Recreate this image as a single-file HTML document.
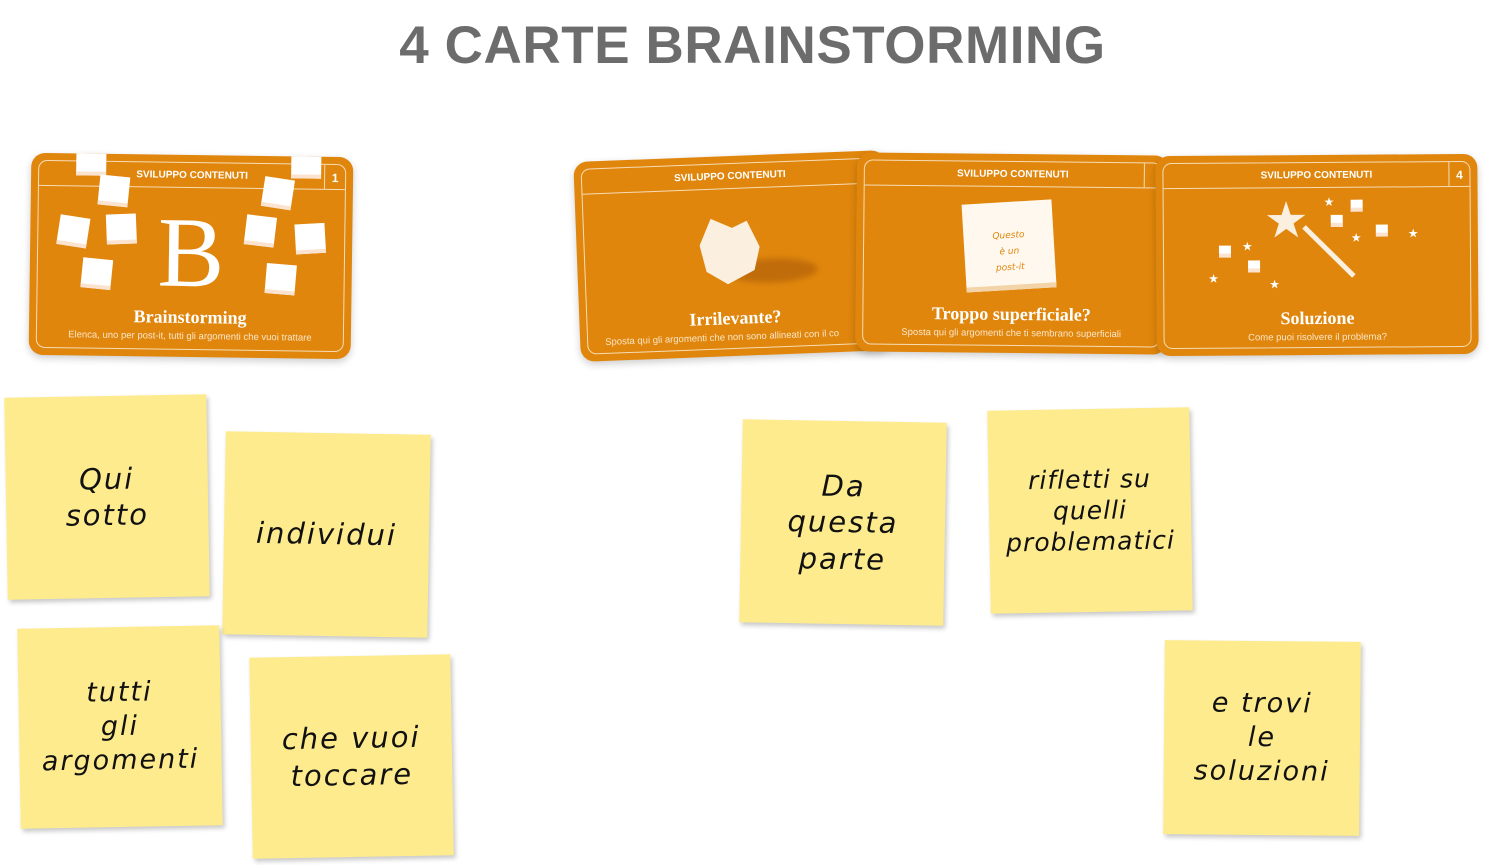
<!DOCTYPE html>
<html><head><meta charset="utf-8"><style>
body{margin:0;width:1505px;height:865px;background:#fff;position:relative;overflow:hidden;font-family:"Liberation Sans",sans-serif}
h1{position:absolute;top:15px;left:0;width:1505px;text-align:center;margin:0;font-size:53px;font-weight:bold;color:#6c6c6c;letter-spacing:0.6px}
.card{position:absolute;background:#E0860C;border-radius:14px;box-shadow:0 3px 8px rgba(0,0,0,.2);overflow:hidden}
.in{position:absolute;left:7px;right:7px;top:7px;bottom:7px;border:1.5px solid #f7dcb5;border-radius:9px}
.hd{position:absolute;left:0;right:0;top:0;height:24px;border-bottom:1.5px solid #f7dcb5;color:#fff;font-size:10px;font-weight:bold;text-align:center;line-height:26px}
.num{position:absolute;right:0;top:0;width:20px;height:24px;border-left:1.5px solid #f7dcb5;color:#fff;font-weight:bold;font-size:12px;text-align:center;line-height:26px}
.tt{position:absolute;left:0;right:0;text-align:center;color:#fff;font-family:"Liberation Serif",serif;font-weight:bold;font-size:18px}
.st{position:absolute;left:0;right:0;text-align:center;color:#fbe6c8;font-size:9.5px;white-space:nowrap}
.sq{position:absolute;width:30px;height:30px;background:#fff;box-shadow:0 -4px 0 #fbe3cf inset}
.pi{position:absolute;background:#FDEB8E;box-shadow:2px 3px 5px rgba(0,0,0,.22);display:flex;align-items:center;justify-content:center;text-align:center;font-family:"DejaVu Sans",sans-serif;font-style:italic;font-size:29px;line-height:1.25;color:#111;letter-spacing:2px}
</style></head><body>
<h1>4 CARTE BRAINSTORMING</h1>

<div class="card" style="left:30px;top:155px;width:322px;height:202px;transform:rotate(0.8deg)">
 <div class="in"><div class="hd">SVILUPPO CONTENUTI</div><div class="num">1</div></div>
 <div class="sq" style="left:45px;top:-8px"></div><div class="sq" style="left:260px;top:-8px"></div>
 <div class="sq" style="left:68px;top:22px;transform:rotate(5deg)"></div><div class="sq" style="left:232px;top:22px;transform:rotate(8deg)"></div>
 <div class="sq" style="left:28px;top:63px;transform:rotate(8deg)"></div><div class="sq" style="left:76px;top:60px;transform:rotate(-3deg)"></div>
 <div class="sq" style="left:215px;top:60px;transform:rotate(6deg)"></div><div class="sq" style="left:265px;top:67px;transform:rotate(-4deg)"></div>
 <div class="sq" style="left:52px;top:105px;transform:rotate(5deg)"></div><div class="sq" style="left:236px;top:108px;transform:rotate(4deg)"></div>
 <div style="position:absolute;left:0;right:0;top:48px;text-align:center;color:#fff;font-family:'Liberation Serif',serif;font-size:100px;line-height:100px">B</div>
 <div class="tt" style="top:152px">Brainstorming</div>
 <div class="st" style="top:176px">Elenca, uno per post-it, tutti gli argomenti che vuoi trattare</div>
</div>

<div class="card" style="left:577px;top:156px;width:312px;height:200px;transform:rotate(-2.2deg)">
 <div class="in"><div class="hd">SVILUPPO CONTENUTI</div></div>
 <div style="position:absolute;left:150px;top:104px;width:90px;height:24px;background:#c06c0a;border-radius:50%;filter:blur(3px)"></div>
 <div style="position:absolute;left:123px;top:62px;width:60px;height:66px;background:#fbefe0;clip-path:polygon(20% 0,55% 15%,80% 5%,100% 45%,90% 80%,45% 100%,10% 80%,0 40%)"></div>
 <div class="tt" style="top:152px">Irrilevante?</div>
 <div class="st" style="top:176px;left:25px;text-align:left">Sposta qui gli argomenti che non sono allineati con il co</div>
</div>

<div class="card" style="left:856px;top:154px;width:312px;height:199px;transform:rotate(0.6deg)">
 <div class="in"><div class="hd">SVILUPPO CONTENUTI</div><div class="num" style="width:16px"></div></div>
 <div style="position:absolute;left:108px;top:48px;width:90px;height:88px;background:#fff8ee;transform:rotate(-4deg);box-shadow:0 -5px 0 #f3d3a8 inset;font-family:'DejaVu Sans';font-style:italic;font-size:9px;color:#e0860c;text-align:center;line-height:16px;padding-top:26px;box-sizing:border-box">Questo<br>è un<br>post-it</div>
 <div class="tt" style="top:150px">Troppo superficiale?</div>
 <div class="st" style="top:174px">Sposta qui gli argomenti che ti sembrano superficiali</div>
</div>

<div class="card" style="left:1156px;top:155px;width:322px;height:200px;transform:rotate(-0.4deg)">
 <div class="in"><div class="hd">SVILUPPO CONTENUTI</div><div class="num">4</div></div>
 <div style="position:absolute;left:150px;top:70px;width:70px;height:5px;background:#fbefe0;transform:rotate(45deg);transform-origin:0 0"></div>
 <div style="position:absolute;left:108px;top:40px;font-size:50px;color:#fbefe0;line-height:50px">★</div>
 <div class="sq" style="width:12px;height:12px;left:63px;top:90px"></div><div class="sq" style="width:12px;height:12px;left:92px;top:105px"></div>
 <div class="sq" style="width:12px;height:12px;left:175px;top:60px"></div><div class="sq" style="width:12px;height:12px;left:195px;top:45px"></div><div class="sq" style="width:12px;height:12px;left:220px;top:70px"></div>
 <div style="position:absolute;left:52px;top:116px;color:#fff;font-size:12px">★</div><div style="position:absolute;left:86px;top:84px;color:#fff;font-size:12px">★</div>
 <div style="position:absolute;left:113px;top:122px;color:#fff;font-size:12px">★</div><div style="position:absolute;left:168px;top:40px;color:#fff;font-size:12px">★</div>
 <div style="position:absolute;left:195px;top:76px;color:#fff;font-size:12px">★</div><div style="position:absolute;left:252px;top:72px;color:#fff;font-size:12px">★</div>
 <div class="tt" style="top:153px">Soluzione</div>
 <div class="st" style="top:177px">Come puoi risolvere il problema?</div>
</div>

<div class="pi" style="left:6px;top:396px;width:202px;height:202px;transform:rotate(-1deg)">Qui<br>sotto</div>
<div class="pi" style="left:224px;top:433px;width:205px;height:203px;transform:rotate(1deg)">individui</div>
<div class="pi" style="left:19px;top:627px;width:202px;height:200px;transform:rotate(-1deg);font-size:27px">tutti<br>gli<br>argomenti</div>
<div class="pi" style="left:251px;top:656px;width:201px;height:201px;transform:rotate(-1deg)">che vuoi<br>toccare</div>
<div class="pi" style="left:741px;top:421px;width:204px;height:203px;transform:rotate(1deg)">Da<br>questa<br>parte</div>
<div class="pi" style="left:989px;top:409px;width:202px;height:203px;transform:rotate(-1deg);font-size:25px;letter-spacing:1px">rifletti su<br>quelli<br>problematici</div>
<div class="pi" style="left:1164px;top:641px;width:196px;height:194px;transform:rotate(0.5deg);font-size:27px">e trovi<br>le<br>soluzioni</div>
</body></html>
